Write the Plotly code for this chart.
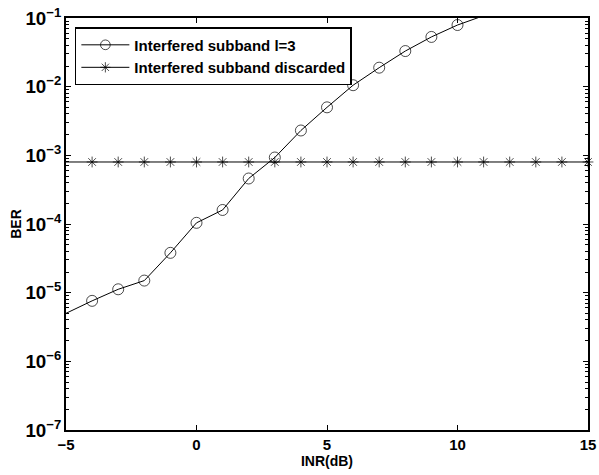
import plotly.graph_objects as go

# ---- data ----
inr_circ = [-5, -4, -3, -2, -1, 0, 1, 2, 3, 4, 5, 6, 7, 8, 9, 10, 11]
ber_circ = [5.0e-6, 7.6e-6, 1.12e-5, 1.5e-5, 3.8e-5, 1.04e-4, 1.6e-4, 4.6e-4, 9.3e-4,
            2.3e-3, 5.0e-3, 1.05e-2, 1.89e-2, 3.3e-2, 5.3e-2, 7.9e-2, 1.08e-1]
inr_disc = list(range(-5, 16))
ber_disc = [8.0e-4] * len(inr_disc)

x_range = [-5, 15]
y_decades = [-7, -1]
x_ticks = [-5, 0, 5, 10, 15]

legend_names = ["Interfered subband l=3", "Interfered subband discarded"]

FONT = "Liberation Sans, Arial, sans-serif"


def visible_sizes(xs, ys, size):
    ymax = 10 ** y_decades[1]
    return [size if (x_range[0] < x <= x_range[1] and y <= ymax * 1.0001) else 0
            for x, y in zip(xs, ys)]


fig = go.Figure()
fig.add_trace(go.Scatter(
    x=inr_circ, y=ber_circ, mode="lines+markers", name=legend_names[0],
    line=dict(color="black", width=1), cliponaxis=False,
    marker=dict(symbol="circle-open", size=visible_sizes(inr_circ, ber_circ, 11),
                color="black", line=dict(width=1, color="black")),
))
fig.add_trace(go.Scatter(
    x=inr_disc, y=ber_disc, mode="lines+markers", name=legend_names[1],
    line=dict(color="black", width=1), cliponaxis=False,
    marker=dict(symbol="asterisk-open", size=visible_sizes(inr_disc, ber_disc, 9),
                color="black", line=dict(width=1, color="black")),
))

axis_common = dict(
    showline=True, linecolor="black", linewidth=1.5, mirror="ticks",
    ticks="inside", tickcolor="black", ticklen=5, showgrid=False, zeroline=False,
    automargin=False,
    tickfont=dict(family=FONT, size=15, color="black", weight="bold"),
)

fig.update_xaxes(
    range=x_range, tickvals=x_ticks, **axis_common,
    title=dict(text="INR(dB)", font=dict(family=FONT, size=14, color="black", weight="bold"),
               standoff=0),
)
fig.update_yaxes(
    type="log", range=y_decades, dtick=1, exponentformat="power", **axis_common,
    minor=dict(ticks="inside", ticklen=3, tickcolor="black", showgrid=False),
    title=dict(text="BER", font=dict(family=FONT, size=14, color="black", weight="bold"),
               standoff=1),
)

fig.update_layout(
    width=599, height=475,
    margin=dict(l=66, r=11, t=18, b=45),
    paper_bgcolor="white", plot_bgcolor="white",
    showlegend=True,
    legend=dict(
        x=0.017, y=0.978, xanchor="left", yanchor="top",
        bgcolor="white", bordercolor="black", borderwidth=1.5,
        font=dict(family=FONT, size=15, color="black", weight="bold"),
        tracegroupgap=0, itemwidth=48,
    ),
)

fig.write_html("out.html", config={"displayModeBar": False},
               post_script="document.body.style.margin='0px';")
